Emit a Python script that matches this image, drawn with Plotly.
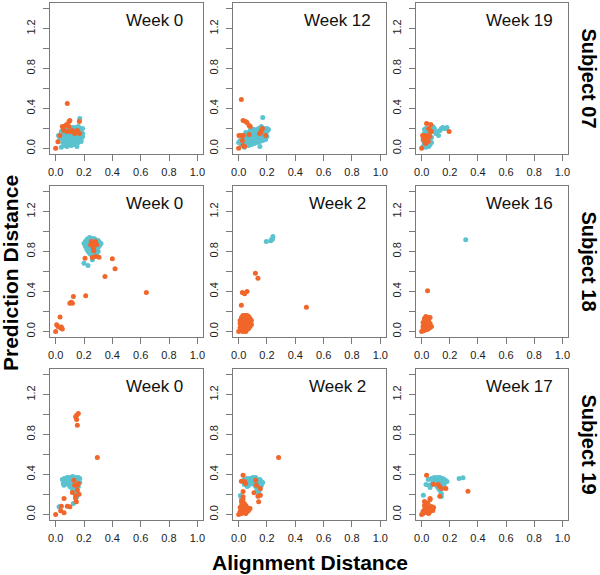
import plotly.graph_objects as go
from plotly.subplots import make_subplots

# ---------- data (x = alignment, y = prediction) ----------
subjects = ["Subject 07", "Subject 18", "Subject 19"]
weeks = [["Week 0", "Week 12", "Week 19"],
         ["Week 0", "Week 2", "Week 16"],
         ["Week 0", "Week 2", "Week 17"]]

s07_w0_cyan = [(0.02, 0.13), (0.03, 0.10), (0.04, 0.01), (0.05, 0.06), (0.05, 0.15), (0.06, 0.09),
               (0.06, 0.18), (0.07, 0.04), (0.07, 0.12), (0.08, 0.02), (0.08, 0.08), (0.08, 0.15),
               (0.09, 0.05), (0.09, 0.11), (0.09, 0.19), (0.10, 0.07), (0.10, 0.13), (0.10, 0.16),
               (0.11, 0.03), (0.11, 0.09), (0.11, 0.14), (0.11, 0.19), (0.12, 0.06), (0.12, 0.11),
               (0.12, 0.17), (0.13, 0.04), (0.13, 0.09), (0.13, 0.13), (0.13, 0.20), (0.14, 0.07),
               (0.14, 0.12), (0.14, 0.16), (0.15, 0.02), (0.15, 0.10), (0.15, 0.14), (0.15, 0.19),
               (0.16, 0.06), (0.16, 0.12), (0.16, 0.17), (0.16, 0.22), (0.17, 0.08), (0.17, 0.14),
               (0.17, 0.20), (0.17, 0.30), (0.18, 0.10), (0.18, 0.16), (0.18, 0.19), (0.19, 0.12),
               (0.19, 0.15), (0.19, 0.20), (0.18, 0.07), (0.14, 0.21), (0.12, 0.21), (0.10, 0.20),
               (0.07, 0.16), (0.05, 0.11), (0.04, 0.17), (0.06, 0.03)]
s07_w0_orange = [(0.00, 0.00), (0.016, 0.067), (0.03, 0.13), (0.082, 0.45), (0.047, 0.22), (0.07, 0.23),
                 (0.059, 0.18), (0.082, 0.17), (0.094, 0.22), (0.094, 0.27), (0.10, 0.28), (0.106, 0.17),
                 (0.078, 0.24), (0.054, 0.20), (0.118, 0.18), (0.134, 0.15), (0.153, 0.18), (0.167, 0.27),
                 (0.169, 0.15)]

s07_w12_cyan = [(0.00, 0.06), (0.01, 0.08), (0.02, 0.04), (0.03, 0.10), (0.04, 0.01), (0.04, 0.07),
                (0.05, 0.12), (0.06, 0.05), (0.06, 0.09), (0.07, 0.03), (0.07, 0.14), (0.08, 0.07),
                (0.08, 0.11), (0.08, 0.18), (0.09, 0.04), (0.09, 0.13), (0.10, 0.08), (0.10, 0.16),
                (0.11, 0.05), (0.11, 0.11), (0.11, 0.19), (0.12, 0.09), (0.12, 0.14), (0.13, 0.06),
                (0.13, 0.12), (0.13, 0.17), (0.14, 0.09), (0.14, 0.15), (0.14, 0.20), (0.15, 0.02),
                (0.15, 0.07), (0.15, 0.12), (0.15, 0.18), (0.16, 0.10), (0.16, 0.15), (0.16, 0.22),
                (0.17, 0.08), (0.17, 0.13), (0.17, 0.19), (0.17, 0.31), (0.18, 0.11), (0.18, 0.16),
                (0.18, 0.20), (0.19, 0.09), (0.19, 0.14), (0.19, 0.18), (0.20, 0.12), (0.20, 0.17),
                (0.21, 0.19), (0.20, 0.20), (0.12, 0.18), (0.10, 0.19), (0.06, 0.13), (0.05, 0.16),
                (0.03, 0.06)]
s07_w12_orange = [(0.019, 0.49), (0.031, 0.28), (0.049, 0.27), (0.059, 0.26), (0.073, 0.23), (0.082, 0.22),
                  (0.002, 0.13), (0.019, 0.13), (0.031, 0.13), (0.00, 0.00), (0.031, 0.03), (0.042, 0.02),
                  (0.026, 0.08), (0.073, 0.14), (0.148, 0.15), (0.16, 0.18), (0.167, 0.20), (0.153, 0.155),
                  (0.19, 0.13)]

s07_w19_cyan = [(0.01, 0.02), (0.02, 0.05), (0.02, 0.15), (0.02, 0.19), (0.03, 0.01), (0.03, 0.09),
                (0.03, 0.20), (0.04, 0.03), (0.04, 0.07), (0.04, 0.12), (0.04, 0.17), (0.05, 0.02),
                (0.05, 0.05), (0.05, 0.10), (0.05, 0.14), (0.06, 0.04), (0.06, 0.08), (0.06, 0.16),
                (0.07, 0.06), (0.07, 0.11), (0.07, 0.19), (0.08, 0.22), (0.09, 0.20), (0.10, 0.15),
                (0.11, 0.17), (0.12, 0.13), (0.13, 0.18), (0.14, 0.20), (0.15, 0.21), (0.16, 0.20),
                (0.17, 0.20), (0.18, 0.21), (0.02, 0.11), (0.03, 0.14), (0.01, 0.08), (0.06, 0.12)]
s07_w19_orange = [(0.00, 0.00), (0.035, 0.25), (0.064, 0.24), (0.059, 0.18), (0.024, 0.13), (0.007, 0.13),
                  (0.012, 0.10), (0.035, 0.08), (0.024, 0.06), (0.047, 0.07), (0.047, 0.13), (0.059, 0.12),
                  (0.07, 0.17), (0.195, 0.17), (0.015, 0.115), (0.03, 0.11), (0.04, 0.095), (0.02, 0.085),
                  (0.05, 0.20), (0.03, 0.05)]

s18_w0_cyan = [(0.20, 0.88), (0.21, 0.85), (0.21, 0.90), (0.22, 0.82), (0.22, 0.87), (0.22, 0.92),
               (0.23, 0.80), (0.23, 0.85), (0.23, 0.89), (0.23, 0.93), (0.24, 0.78), (0.24, 0.83),
               (0.24, 0.87), (0.24, 0.91), (0.25, 0.81), (0.25, 0.85), (0.25, 0.89), (0.25, 0.93),
               (0.26, 0.79), (0.26, 0.83), (0.26, 0.87), (0.26, 0.91), (0.27, 0.81), (0.27, 0.85),
               (0.27, 0.89), (0.27, 0.93), (0.28, 0.80), (0.28, 0.84), (0.28, 0.88), (0.28, 0.92),
               (0.29, 0.82), (0.29, 0.86), (0.29, 0.90), (0.30, 0.84), (0.30, 0.88), (0.30, 0.91),
               (0.31, 0.86), (0.31, 0.89), (0.30, 0.80), (0.29, 0.78), (0.26, 0.76), (0.25, 0.77),
               (0.20, 0.683), (0.228, 0.66), (0.259, 0.717), (0.24, 0.94), (0.22, 0.89), (0.32, 0.88)]
s18_w0_orange = [(0.00, 0.00), (0.007, 0.067), (0.016, 0.05), (0.031, 0.143), (0.035, 0.033), (0.047, 0.023),
                 (0.04, 0.043), (0.10, 0.283), (0.11, 0.293), (0.118, 0.283), (0.125, 0.35), (0.212, 0.357),
                 (0.207, 0.733), (0.348, 0.55), (0.40, 0.727), (0.419, 0.627), (0.64, 0.39), (0.306, 0.743),
                 (0.282, 0.75), (0.259, 0.74), (0.27, 0.807), (0.266, 0.833), (0.252, 0.90), (0.275, 0.883),
                 (0.289, 0.867), (0.247, 0.867), (0.282, 0.90)]

s18_w2_cyan = [(0.195, 0.90), (0.226, 0.907), (0.238, 0.923), (0.242, 0.95), (0.231, 0.917)]
s18_w2_orange = [(0.00, 0.00), (0.01, 0.01), (0.01, 0.04), (0.01, 0.08), (0.02, 0.02), (0.02, 0.06),
                 (0.02, 0.10), (0.02, 0.14), (0.03, 0.00), (0.03, 0.04), (0.03, 0.08), (0.03, 0.12),
                 (0.03, 0.16), (0.04, 0.02), (0.04, 0.06), (0.04, 0.10), (0.04, 0.14), (0.05, 0.00),
                 (0.05, 0.04), (0.05, 0.08), (0.05, 0.12), (0.05, 0.16), (0.06, 0.02), (0.06, 0.06),
                 (0.06, 0.10), (0.06, 0.14), (0.07, 0.03), (0.07, 0.07), (0.07, 0.11), (0.07, 0.15),
                 (0.08, 0.05), (0.08, 0.09), (0.08, 0.13), (0.09, 0.07), (0.09, 0.11), (0.02, 0.12),
                 (0.04, 0.16), (0.06, 0.16), (0.01, 0.11), (0.03, 0.02), (0.478, 0.243), (0.118, 0.583),
                 (0.136, 0.533), (0.059, 0.40), (0.026, 0.39), (0.042, 0.377), (0.019, 0.263)]

s18_w16_cyan = [(0.313, 0.917)]
s18_w16_orange = [(0.00, 0.00), (0.01, 0.02), (0.01, 0.05), (0.01, 0.09), (0.02, 0.01), (0.02, 0.04),
                  (0.02, 0.07), (0.02, 0.11), (0.03, 0.03), (0.03, 0.06), (0.03, 0.09), (0.03, 0.13),
                  (0.03, 0.15), (0.04, 0.02), (0.04, 0.05), (0.04, 0.08), (0.04, 0.11), (0.05, 0.03),
                  (0.05, 0.06), (0.05, 0.10), (0.05, 0.14), (0.06, 0.04), (0.06, 0.08), (0.06, 0.14),
                  (0.07, 0.05), (0.02, 0.13), (0.04, 0.14), (0.042, 0.407)]

s19_w0_cyan = [(0.047, 0.35), (0.054, 0.31), (0.059, 0.293), (0.06, 0.36), (0.07, 0.34), (0.08, 0.37),
               (0.08, 0.32), (0.09, 0.35), (0.09, 0.30), (0.10, 0.37), (0.10, 0.33), (0.10, 0.28),
               (0.11, 0.36), (0.11, 0.31), (0.12, 0.38), (0.12, 0.34), (0.12, 0.29), (0.13, 0.36),
               (0.13, 0.32), (0.13, 0.27), (0.14, 0.37), (0.14, 0.33), (0.14, 0.29), (0.14, 0.24),
               (0.15, 0.35), (0.15, 0.31), (0.15, 0.26), (0.15, 0.21), (0.16, 0.37), (0.16, 0.33),
               (0.16, 0.28), (0.17, 0.36), (0.17, 0.32), (0.14, 0.20), (0.15, 0.18), (0.125, 0.11),
               (0.024, 0.077), (0.12, 0.25), (0.11, 0.27), (0.09, 0.33)]
s19_w0_orange = [(0.141, 0.977), (0.148, 0.993), (0.16, 1.01), (0.148, 0.95), (0.153, 0.893), (0.294, 0.57),
                 (0.00, 0.00), (0.035, 0.037), (0.04, 0.083), (0.059, 0.017), (0.059, 0.16), (0.082, 0.083),
                 (0.10, 0.077), (0.118, 0.22), (0.129, 0.343), (0.134, 0.293), (0.141, 0.183), (0.146, 0.127),
                 (0.153, 0.243), (0.16, 0.31), (0.165, 0.203), (0.153, 0.293), (0.141, 0.16)]

s19_w2_cyan = [(0.012, 0.19), (0.019, 0.16), (0.02, 0.13), (0.03, 0.33), (0.04, 0.35), (0.05, 0.31),
               (0.05, 0.34), (0.06, 0.36), (0.07, 0.33), (0.07, 0.29), (0.08, 0.36), (0.08, 0.32),
               (0.09, 0.35), (0.09, 0.31), (0.10, 0.37), (0.10, 0.33), (0.11, 0.35), (0.11, 0.30),
               (0.12, 0.37), (0.12, 0.32), (0.12, 0.28), (0.13, 0.35), (0.13, 0.30), (0.13, 0.25),
               (0.14, 0.33), (0.14, 0.28), (0.14, 0.22), (0.15, 0.35), (0.15, 0.30), (0.15, 0.25),
               (0.16, 0.33), (0.16, 0.29), (0.17, 0.32), (0.14, 0.19), (0.04, 0.30), (0.06, 0.28)]
s19_w2_orange = [(0.00, 0.00), (0.01, 0.03), (0.01, 0.07), (0.02, 0.01), (0.02, 0.05), (0.02, 0.09),
                 (0.02, 0.13), (0.03, 0.02), (0.03, 0.06), (0.03, 0.10), (0.03, 0.15), (0.04, 0.03),
                 (0.04, 0.07), (0.04, 0.11), (0.05, 0.01), (0.05, 0.05), (0.05, 0.09), (0.06, 0.03),
                 (0.06, 0.07), (0.07, 0.04), (0.08, 0.06), (0.031, 0.177), (0.282, 0.57), (0.031, 0.393),
                 (0.019, 0.333), (0.049, 0.31), (0.031, 0.23), (0.108, 0.217), (0.12, 0.343), (0.125, 0.293),
                 (0.136, 0.183), (0.141, 0.127), (0.153, 0.193), (0.153, 0.26), (0.04, 0.33)]

s19_w17_cyan = [(0.012, 0.193), (0.031, 0.30), (0.054, 0.293), (0.047, 0.35), (0.035, 0.093), (0.03, 0.06),
                (0.07, 0.36), (0.08, 0.33), (0.09, 0.37), (0.09, 0.31), (0.10, 0.35), (0.10, 0.30),
                (0.11, 0.37), (0.11, 0.33), (0.11, 0.28), (0.12, 0.36), (0.12, 0.31), (0.12, 0.26),
                (0.13, 0.37), (0.13, 0.34), (0.13, 0.29), (0.13, 0.24), (0.14, 0.35), (0.14, 0.31),
                (0.14, 0.26), (0.14, 0.21), (0.15, 0.36), (0.15, 0.32), (0.15, 0.27), (0.16, 0.35),
                (0.16, 0.30), (0.17, 0.34), (0.18, 0.33), (0.14, 0.18), (0.266, 0.36), (0.294, 0.367),
                (0.07, 0.30), (0.06, 0.27)]
s19_w17_orange = [(0.035, 0.393), (0.329, 0.233), (0.118, 0.30), (0.129, 0.277), (0.141, 0.26), (0.172, 0.26),
                  (0.129, 0.183), (0.082, 0.303), (0.00, 0.00), (0.01, 0.03), (0.02, 0.05), (0.02, 0.09),
                  (0.03, 0.02), (0.03, 0.12), (0.04, 0.04), (0.04, 0.10), (0.05, 0.01), (0.05, 0.06),
                  (0.06, 0.15), (0.06, 0.03), (0.07, 0.08), (0.08, 0.04), (0.06, 0.16), (0.045, 0.11),
                  (0.03, 0.07), (0.02, 0.13), (0.085, 0.07), (0.01, 0.01)]

panels = [[(s07_w0_cyan, s07_w0_orange), (s07_w12_cyan, s07_w12_orange), (s07_w19_cyan, s07_w19_orange)],
          [(s18_w0_cyan, s18_w0_orange), (s18_w2_cyan, s18_w2_orange), (s18_w16_cyan, s18_w16_orange)],
          [(s19_w0_cyan, s19_w0_orange), (s19_w2_cyan, s19_w2_orange), (s19_w17_cyan, s19_w17_orange)]]

CYAN = "#5BC2CF"
ORANGE = "#F1662A"
FONT = "Liberation Sans, Arial, sans-serif"
AXIS_GREY = "#7a7a7a"

x_dom = [[0.0, 0.2954], [0.3533, 0.6486], [0.7066, 1.0]]
y_dom = [[0.708, 1.0], [0.354, 0.646], [0.0, 0.292]]

fig = make_subplots(rows=3, cols=3)

for r in range(3):
    for c in range(3):
        cyan, orange = panels[r][c]
        for pts, col in ((cyan, CYAN), (orange, ORANGE)):
            fig.add_trace(go.Scatter(
                x=[p[0] for p in pts], y=[p[1] for p in pts],
                mode="markers", marker=dict(size=5, color=col, line=dict(width=0)),
                showlegend=False, hoverinfo="x+y"), row=r + 1, col=c + 1)
        idx = r * 3 + c + 1
        sfx = "" if idx == 1 else str(idx)
        fig.update_layout(**{
            "xaxis" + sfx: dict(domain=x_dom[c], anchor="y" + sfx),
            "yaxis" + sfx: dict(domain=y_dom[r], anchor="x" + sfx),
        })
        fig.add_annotation(text=weeks[r][c], xref="x%s domain" % sfx, yref="y%s domain" % sfx,
                           x=0.68, y=0.887, xanchor="center", yanchor="middle", showarrow=False,
                           font=dict(family=FONT, size=17, color="#111"))

fig.update_xaxes(range=[-0.04, 1.04], tickvals=[0, 0.2, 0.4, 0.6, 0.8, 1.0],
                 ticktext=["0.0", "0.2", "0.4", "0.6", "0.8", "1.0"], automargin=False,
                 showline=True, mirror=True, linecolor=AXIS_GREY, linewidth=1,
                 ticks="outside", ticklen=6, tickcolor=AXIS_GREY, showgrid=False, zeroline=False,
                 ticklabelstandoff=2,
                 tickfont=dict(family=FONT, size=11, color="#222"))
fig.update_yaxes(range=[-0.056, 1.456], tickvals=[0, 0.2, 0.4, 0.6, 0.8, 1.0, 1.2, 1.4],
                 ticktext=["0.0", "", "0.4", "", "0.8", "", "1.2", ""], tickangle=-90,
                 automargin=False,
                 showline=True, mirror=True, linecolor=AXIS_GREY, linewidth=1,
                 ticks="outside", ticklen=6, tickcolor=AXIS_GREY, showgrid=False, zeroline=False,
                 ticklabelstandoff=4,
                 tickfont=dict(family=FONT, size=11, color="#222"))

# subject labels on the right, rotated
for r, name in enumerate(subjects):
    fig.add_annotation(text="<b>%s</b>" % name, xref="paper", yref="paper",
                       x=1.0, xshift=21, y=(y_dom[r][0] + y_dom[r][1]) / 2,
                       textangle=90, showarrow=False, xanchor="center", yanchor="middle",
                       font=dict(family=FONT, size=20, color="#000"))

fig.add_annotation(text="<b>Alignment Distance</b>", xref="paper", yref="paper",
                   x=(310 - 50) / 518, y=0, yshift=-42, showarrow=False,
                   xanchor="center", yanchor="middle", font=dict(family=FONT, size=21, color="#000"))
fig.add_annotation(text="<b>Prediction Distance</b>", xref="paper", yref="paper",
                   x=0, xshift=-40, y=(520 - 273) / 517, textangle=-90, showarrow=False,
                   xanchor="center", yanchor="middle", font=dict(family=FONT, size=21, color="#000"))

fig.update_layout(width=600, height=575, margin=dict(l=50, r=32, t=3, b=55, autoexpand=False),
                  plot_bgcolor="white", paper_bgcolor="white")

# the page body has a default 8px margin; drop it so the figure sits at the window's corner
fig.write_html("out.html", config={"displayModeBar": False},
               post_script="document.body.style.margin='0';")
